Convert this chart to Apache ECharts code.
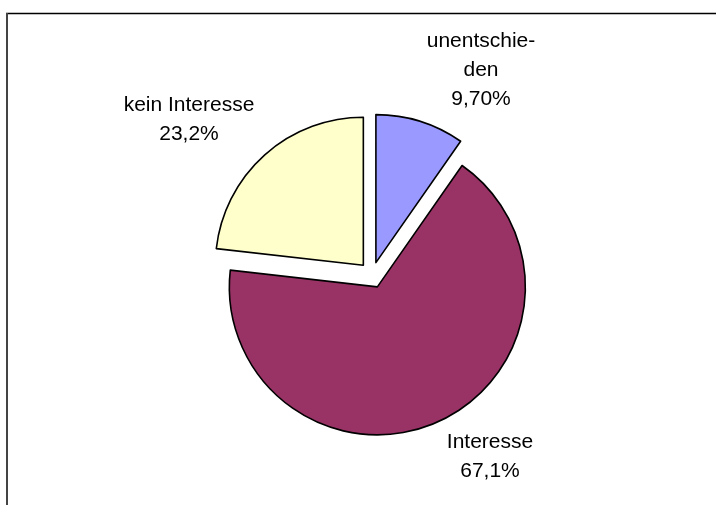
<!DOCTYPE html>
<html>
<head>
<meta charset="utf-8">
<script src="https://cdn.jsdelivr.net/npm/echarts@6/dist/echarts.min.js"></script>
<style>
  html, body { margin: 0; padding: 0; background: #fff; }
  #chart { width: 716px; height: 505px; }
</style>
</head>
<body>
<div id="chart"></div>
<script>
// Survey answers, clockwise from 12 o'clock
const categories = ['unentschie-\nden', 'Interesse', 'kein Interesse'];
const shares = [9.7, 67.1, 23.2];
const shareLabels = ['9,70%', '67,1%', '23,2%'];
const colors = ['#9999FF', '#993366', '#FFFFCC'];

// centre of each label block
const labelSpots = [[481, 70], [490, 457], [189, 120]];

const chart = echarts.init(document.getElementById('chart'), null, { renderer: 'canvas' });

const data = categories.map((name, i) => ({
  name: name,
  value: shares[i],
  selected: true,
  itemStyle: { color: colors[i] },
  select: { itemStyle: { color: colors[i], borderColor: '#000', borderWidth: 1.6 } }
}));

const labelFont = '21px "Liberation Sans", Arial, sans-serif';
const labelTexts = categories.map((name, i) => ({
  type: 'text',
  x: labelSpots[i][0],
  y: labelSpots[i][1],
  style: {
    text: name + '\n' + shareLabels[i],
    font: labelFont,
    lineHeight: 29,
    fill: '#000',
    textAlign: 'center',
    textVerticalAlign: 'middle'
  }
}));

chart.setOption({
  animation: false,
  backgroundColor: '#fff',
  graphic: [
    { type: 'line', shape: { x1: 6, y1: 13.5, x2: 716, y2: 13.5 }, style: { stroke: '#000', lineWidth: 1.5 } },
    { type: 'line', shape: { x1: 7, y1: 13, x2: 7, y2: 505 }, style: { stroke: '#444', lineWidth: 2 } }
  ].concat(labelTexts),
  series: [{
    type: 'pie',
    center: [372, 275],
    radius: 148,
    startAngle: 90,
    clockwise: true,
    selectedMode: 'multiple',
    selectedOffset: 13,
    emphasis: { disabled: true },
    itemStyle: { borderColor: '#000', borderWidth: 1.6 },
    label: { show: false },
    labelLine: { show: false },
    data: data
  }]
});
</script>
</body>
</html>
